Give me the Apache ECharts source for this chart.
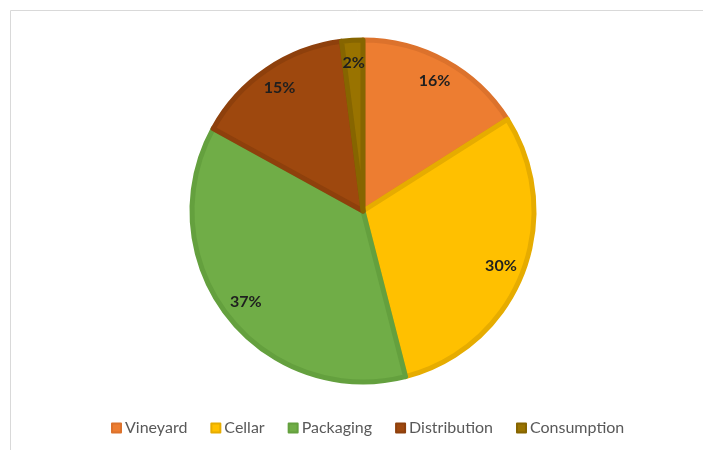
<!DOCTYPE html>
<html>
<head>
<meta charset="utf-8">
<script src="https://cdn.jsdelivr.net/npm/echarts@6/dist/echarts.min.js"></script>
<style>
  html, body { margin: 0; padding: 0; background: #fff; }
  #chart { width: 703px; height: 450px; }
</style>
</head>
<body>
<div id="chart"></div>
<script>
// Share of impact by life-cycle stage
const stages = ['Vineyard', 'Cellar', 'Packaging', 'Distribution', 'Consumption'];
const shares = [16, 30, 37, 15, 2];
const fillColors = ['#ED7D31', '#FFC000', '#70AD47', '#9E480E', '#997300'];
const edgeColors = ['#DC722C', '#E6AC00', '#64A03E', '#8E400C', '#866500'];

const center = [363, 211];
const outerR = 171;

const sliceData = stages.map((name, i) => ({
  name,
  value: shares[i],
  itemStyle: { color: fillColors[i], borderColor: edgeColors[i], borderWidth: 5 }
}));

const labelData = stages.map((name, i) => ({ name, value: shares[i] }));

const chart = echarts.init(document.getElementById('chart'), null, { renderer: 'canvas' });
chart.setOption({
  animation: false,
  graphic: [{
    type: 'rect',
    silent: true,
    shape: { x: 10.5, y: 10.5, width: 800, height: 600 },
    style: { fill: 'none', stroke: '#D9D9D9', lineWidth: 1 }
  }],
  legend: {
    data: stages,
    bottom: 9,
    left: 106,
    itemWidth: 9,
    itemHeight: 9,
    itemGap: 23,
    icon: 'rect',
    textStyle: { color: '#595959', fontSize: 16, fontFamily: 'Lato', padding: [0, 0, 0, -1] }
  },
  series: [
    {
      type: 'pie',
      center,
      radius: [0, outerR],
      startAngle: 90,
      clockwise: true,
      silent: true,
      label: { show: false },
      labelLine: { show: false },
      data: sliceData
    },
    {
      // transparent ring used only to place the percentage labels
      type: 'pie',
      center,
      radius: [outerR * 0.7, outerR],
      startAngle: 90,
      clockwise: true,
      silent: true,
      itemStyle: { color: 'transparent', borderWidth: 0 },
      label: {
        show: true,
        position: 'inside',
        formatter: '{c}%',
        color: '#1F1F1F',
        fontSize: 16,
        fontWeight: 'bold',
        fontFamily: 'Lato'
      },
      labelLine: { show: false },
      data: labelData
    }
  ]
});
</script>
</body>
</html>
